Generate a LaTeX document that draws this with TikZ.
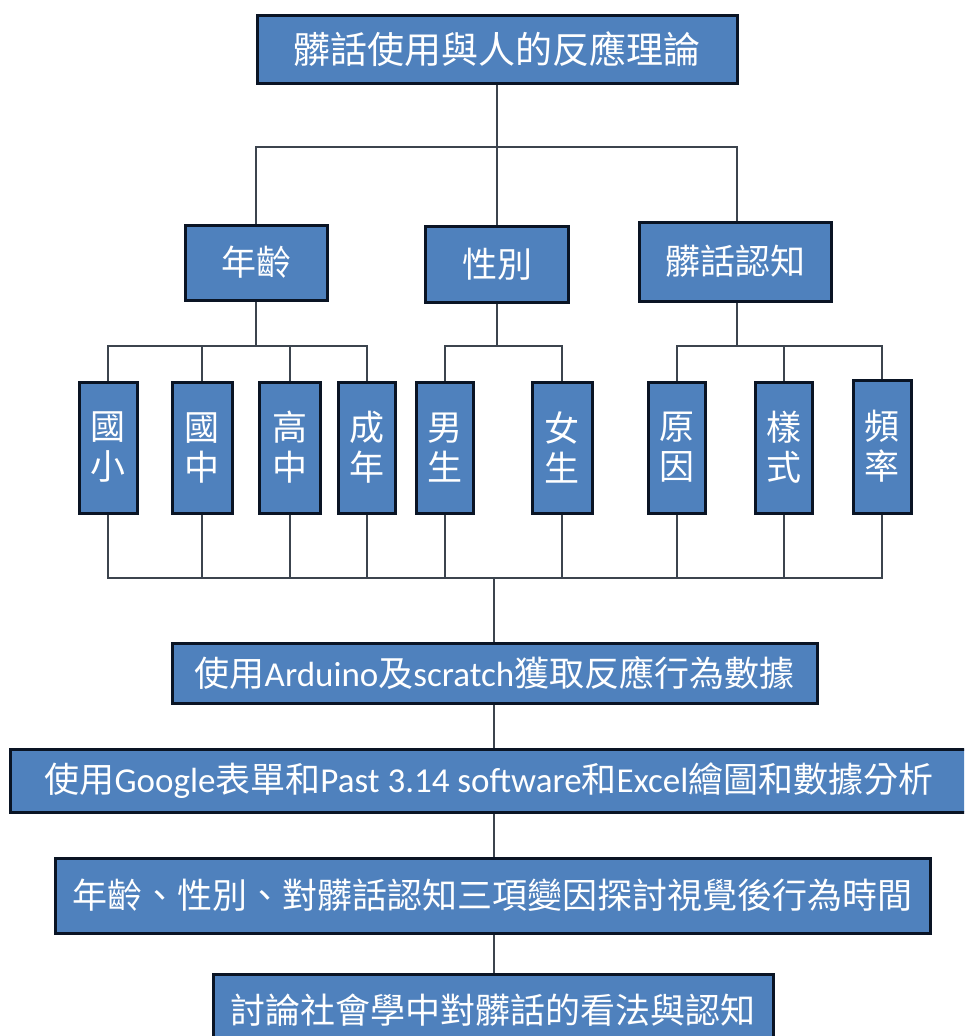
\documentclass[tikz,border=0pt]{standalone}
\usepackage{fontspec}
\setmainfont{Noto Sans CJK TC}
\newfontfamily\lat{Carlito}
\definecolor{boxfill}{RGB}{79,129,189}
\definecolor{boxline}{RGB}{10,20,36}
\definecolor{conn}{RGB}{60,68,78}
\begin{document}
\begin{tikzpicture}[x=1pt,y=-1pt,
  box/.style={draw=boxline, line width=3pt, fill=boxfill, text=white,
    inner sep=0pt, align=center, font=\fontsize{35}{40}\selectfont},
  vbox/.style={box, minimum height=131pt},
  wire/.style={draw=conn, line width=1.3pt}]
\clip (0,0) rectangle (964,1036);
\fill[white] (0,0) rectangle (964,1036);

% top
\node[box, minimum width=480pt, minimum height=68pt, font=\fontsize{37}{40}\selectfont] (top) at (497,49) {髒話使用與人的反應理論};

% second level
\node[box, minimum width=142pt, minimum height=75pt] (age) at (256,262.5) {年齡};
\node[box, minimum width=143pt, minimum height=76pt] (sex) at (497,264) {性別};
\node[box, minimum width=192pt, minimum height=79pt] (cog) at (735,261.5) {髒話認知};

% third level
\node[vbox, minimum width=58pt] (a1) at (108,447.5) {國\\小};
\node[vbox, minimum width=60pt] (a2) at (202,447.5) {國\\中};
\node[vbox, minimum width=61pt] (a3) at (290,447.5) {高\\中};
\node[vbox, minimum width=57pt] (a4) at (367,447.5) {成\\年};
\node[vbox, minimum width=57pt] (s1) at (445,447.5) {男\\生};
\node[vbox, minimum width=60pt] (s2) at (562,447.5) {女\\生};
\node[vbox, minimum width=57pt] (c1) at (677,447.5) {原\\因};
\node[vbox, minimum width=57pt] (c2) at (784,447.5) {樣\\式};
\node[vbox, minimum width=58pt, minimum height=133pt] (c3) at (882,446.5) {頻\\率};

% bottom chain
\node[box, minimum width=645pt, minimum height=60pt] (ard) at (494.5,673) {使用{\lat Arduino}及{\lat scratch}獲取反應行為數據};
\node[box, minimum width=958pt, minimum height=63pt] (goog) at (489,780.5) {使用{\lat Google}表單和{\lat Past 3.14 software}和{\lat Excel}繪圖和數據分析};
\node[box, minimum width=875pt, minimum height=75pt] (var) at (492.5,895.5) {年齡、性別、對髒話認知三項變因探討視覺後行為時間};
\node[box, minimum width=560pt, minimum height=72pt] (disc) at (493,1010) {討論社會學中對髒話的看法與認知};

% junctions
\coordinate (j0) at (497,147);
\coordinate (ja) at (256,346);
\coordinate (js) at (497,346);
\coordinate (jc) at (737,346);
\coordinate (jb) at (494,578);

% connectors
\draw[wire] (top.south) -- (j0);
\draw[wire] (age.north) |- (j0);
\draw[wire] (j0) -- (sex.north);
\draw[wire] (cog.north -| jc) |- (j0);

\draw[wire] (age.south) -- (ja);
\draw[wire] (a1.north) |- (ja);
\draw[wire] (a2.north) |- (ja);
\draw[wire] (a3.north) |- (ja);
\draw[wire] (a4.north) |- (ja);

\draw[wire] (sex.south) -- (js);
\draw[wire] (s1.north) |- (js);
\draw[wire] (s2.north) |- (js);

\draw[wire] (cog.south -| jc) -- (jc);
\draw[wire] (c1.north) |- (jc);
\draw[wire] (c2.north) |- (jc);
\draw[wire] (c3.north) |- (jc);

\draw[wire] (a1.south) |- (jb);
\draw[wire] (a2.south) |- (jb);
\draw[wire] (a3.south) |- (jb);
\draw[wire] (a4.south) |- (jb);
\draw[wire] (s1.south) |- (jb);
\draw[wire] (s2.south) |- (jb);
\draw[wire] (c1.south) |- (jb);
\draw[wire] (c2.south) |- (jb);
\draw[wire] (c3.south) |- (jb);

\draw[wire] (jb) -- (ard.north -| jb);
\draw[wire] (ard.south -| jb) -- (goog.north -| jb);
\draw[wire] (goog.south -| jb) -- (var.north -| jb);
\draw[wire] (var.south -| jb) -- (disc.north -| jb);
\end{tikzpicture}
\end{document}
